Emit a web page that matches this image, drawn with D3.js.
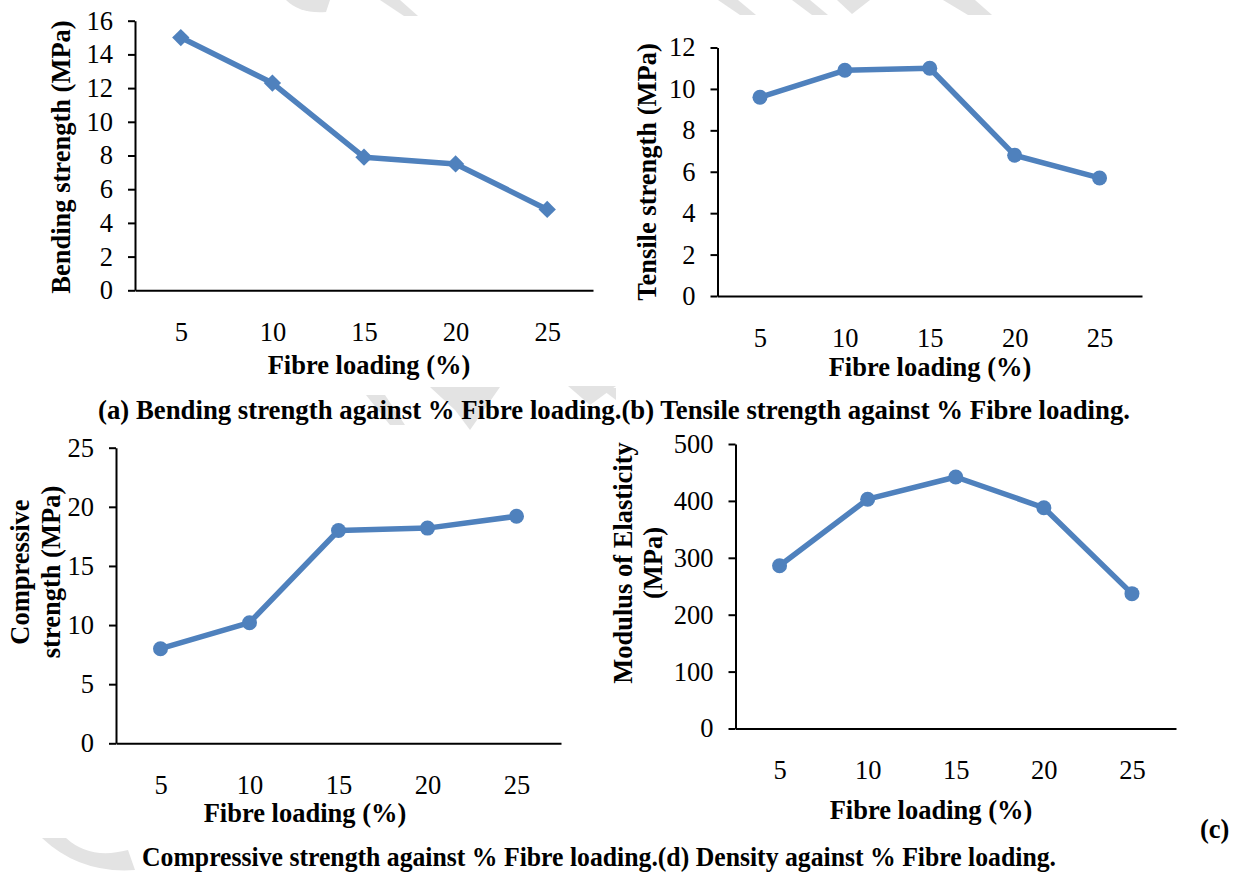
<!DOCTYPE html>
<html>
<head>
<meta charset="utf-8">
<script src="https://cdn.jsdelivr.net/npm/d3@7"></script>
<style>
  body { margin: 0; background: #fff; }
  svg text { font-family: "Liberation Serif", "Times New Roman", serif; fill: #000; }
</style>
</head>
<body>
<div id="container"></div>
<script>
// fibre loading categories (%), shared by all four plots
var categories = [5, 10, 15, 20, 25];

// values
var bendingValues = [15.0, 12.3, 7.9, 7.5, 4.8];
var tensileValues = [9.6, 10.9, 11.0, 6.8, 5.7];
var compressiveValues = [8.0, 10.2, 18.0, 18.2, 19.2];
var modulusValues = [286, 403, 442, 388, 237];

// y tick labels
var bendingTicks = [0, 2, 4, 6, 8, 10, 12, 14, 16];
var tensileTicks = [0, 2, 4, 6, 8, 10, 12];
var compressiveTicks = [0, 5, 10, 15, 20, 25];
var modulusTicks = [0, 100, 200, 300, 400, 500];

var width = 1236, height = 874;
var blue = '#4f81bd';
var fontSize = 26.5;

var svg = d3.select('#container')
  .append('svg')
  .attr('width', width)
  .attr('height', height);

svg.append('rect').attr('width', width).attr('height', height).attr('fill', '#fff');

// faint watermark bits behind everything
var wm = svg.append('g').attr('fill', '#e3e3e3');
[
  'M286,0 Q300,14 326,12 L330,0 Z',
  'M380,0 L404,16 L418,16 L400,0 Z',
  'M718,0 L740,15 L756,15 L738,0 Z',
  'M792,0 L812,15 L828,15 L810,0 Z',
  'M837,0 L852,14 L870,0 Z',
  'M943,0 L968,15 L992,15 L975,0 Z',
  'M430,387 L455,410 L470,430 L500,387 Z',
  'M568,386 L590,405 L616,386 Z',
  'M366,395 L390,425 L405,425 L385,395 Z',
  'M600,388 L616,400 L616,388 Z',
  'M42,838 Q80,874 135,870 L128,850 Q90,860 66,838 Z'
].forEach(function (d) { wm.append('path').attr('d', d); });

var panels = [
  { values: bendingValues, ticks: bendingTicks, max: 16, marker: 'diamond',
    left: 135, right: 593, top: 20.7, bottom: 290.3,
    yTitle: ['Bending strength (MPa)'], yTitleX: 61, yTitleY: 157,
    xTitleX: 369, xTitleY: 365 },
  { values: tensileValues, ticks: tensileTicks, max: 12, marker: 'circle',
    left: 717.5, right: 1142, top: 47.5, bottom: 296,
    yTitle: ['Tensile strength (MPa)'], yTitleX: 647, yTitleY: 172,
    xTitleX: 930, xTitleY: 367 },
  { values: compressiveValues, ticks: compressiveTicks, max: 25, marker: 'circle',
    left: 116, right: 561, top: 447.7, bottom: 743.3,
    yTitle: ['Compressive', 'strength (MPa)'], yTitleX: 35, yTitleY: 572,
    xTitleX: 305, xTitleY: 813 },
  { values: modulusValues, ticks: modulusTicks, max: 500, marker: 'circle',
    left: 735.5, right: 1176, top: 444, bottom: 728.5,
    yTitle: ['Modulus of Elasticity', '(MPa)'], yTitleX: 637.5, yTitleY: 563,
    xTitleX: 931, xTitleY: 810 }
];

function drawPanel(p) {
  var g = svg.append('g');

  var x = d3.scalePoint()
    .domain(categories)
    .range([p.left, p.right])
    .padding(0.5);

  var y = d3.scaleLinear()
    .domain([0, p.max])
    .range([p.bottom, p.top]);

  // y axis with outward ticks
  var yAxis = g.append('g')
    .attr('transform', 'translate(' + p.left + ',0)')
    .call(d3.axisLeft(y).tickValues(p.ticks).tickSize(7).tickSizeOuter(0).tickPadding(15));

  // x axis: plain line, labels hang well below
  var xAxis = g.append('g')
    .attr('transform', 'translate(0,' + p.bottom + ')')
    .call(d3.axisBottom(x).tickSize(0).tickSizeOuter(0).tickPadding(32));

  [yAxis, xAxis].forEach(function (a) {
    a.attr('font-family', null).attr('font-size', null);
    a.select('.domain').attr('stroke', '#000').attr('stroke-width', 2);
    a.selectAll('.tick line').attr('stroke', '#000').attr('stroke-width', 2);
    a.selectAll('.tick text').style('font-size', fontSize + 'px').attr('fill', '#000');
  });

  var pts = categories.map(function (c, i) { return [x(c), y(p.values[i])]; });

  g.append('path')
    .datum(pts)
    .attr('fill', 'none')
    .attr('stroke', blue)
    .attr('stroke-width', 5.5)
    .attr('stroke-linejoin', 'round')
    .attr('d', d3.line());

  if (p.marker === 'diamond') {
    g.selectAll('.mk')
      .data(pts)
      .join('path')
      .attr('class', 'mk')
      .attr('fill', blue)
      .attr('d', d3.symbol(d3.symbolSquare, 150))
      .attr('transform', function (d) { return 'translate(' + d[0] + ',' + d[1] + ') rotate(45)'; });
  } else {
    g.selectAll('.mk')
      .data(pts)
      .join('circle')
      .attr('class', 'mk')
      .attr('fill', blue)
      .attr('r', 7.5)
      .attr('cx', function (d) { return d[0]; })
      .attr('cy', function (d) { return d[1]; });
  }

  // y title (one or two lines, rotated)
  var n = p.yTitle.length;
  var yt = g.append('text')
    .attr('transform', 'translate(' + p.yTitleX + ',' + p.yTitleY + ') rotate(-90)')
    .attr('text-anchor', 'middle')
    .style('font-size', fontSize + 'px')
    .style('font-weight', 'bold');
  p.yTitle.forEach(function (t, i) {
    yt.append('tspan')
      .attr('x', 0)
      .attr('y', (i - (n - 1) / 2) * 30.5)
      .attr('dy', '0.35em')
      .text(t);
  });

  g.append('text')
    .attr('x', p.xTitleX)
    .attr('y', p.xTitleY)
    .attr('dy', '0.35em')
    .attr('text-anchor', 'middle')
    .style('font-size', fontSize + 'px')
    .style('font-weight', 'bold')
    .text('Fibre loading (%)');
}

panels.forEach(drawPanel);

// figure captions
svg.append('text')
  .attr('x', 98).attr('y', 410).attr('dy', '0.35em')
  .attr('textLength', 1032).attr('lengthAdjust', 'spacingAndGlyphs')
  .style('font-size', '26.8px').style('font-weight', 'bold')
  .text('(a) Bending strength against % Fibre loading.(b) Tensile strength against % Fibre loading.');

svg.append('text')
  .attr('x', 142).attr('y', 857).attr('dy', '0.35em')
  .attr('textLength', 914).attr('lengthAdjust', 'spacingAndGlyphs')
  .style('font-size', fontSize + 'px').style('font-weight', 'bold')
  .text('Compressive strength against % Fibre loading.(d) Density against % Fibre loading.');

svg.append('text')
  .attr('x', 1200).attr('y', 829).attr('dy', '0.35em')
  .style('font-size', fontSize + 'px').style('font-weight', 'bold')
  .text('(c)');
</script>
</body>
</html>
